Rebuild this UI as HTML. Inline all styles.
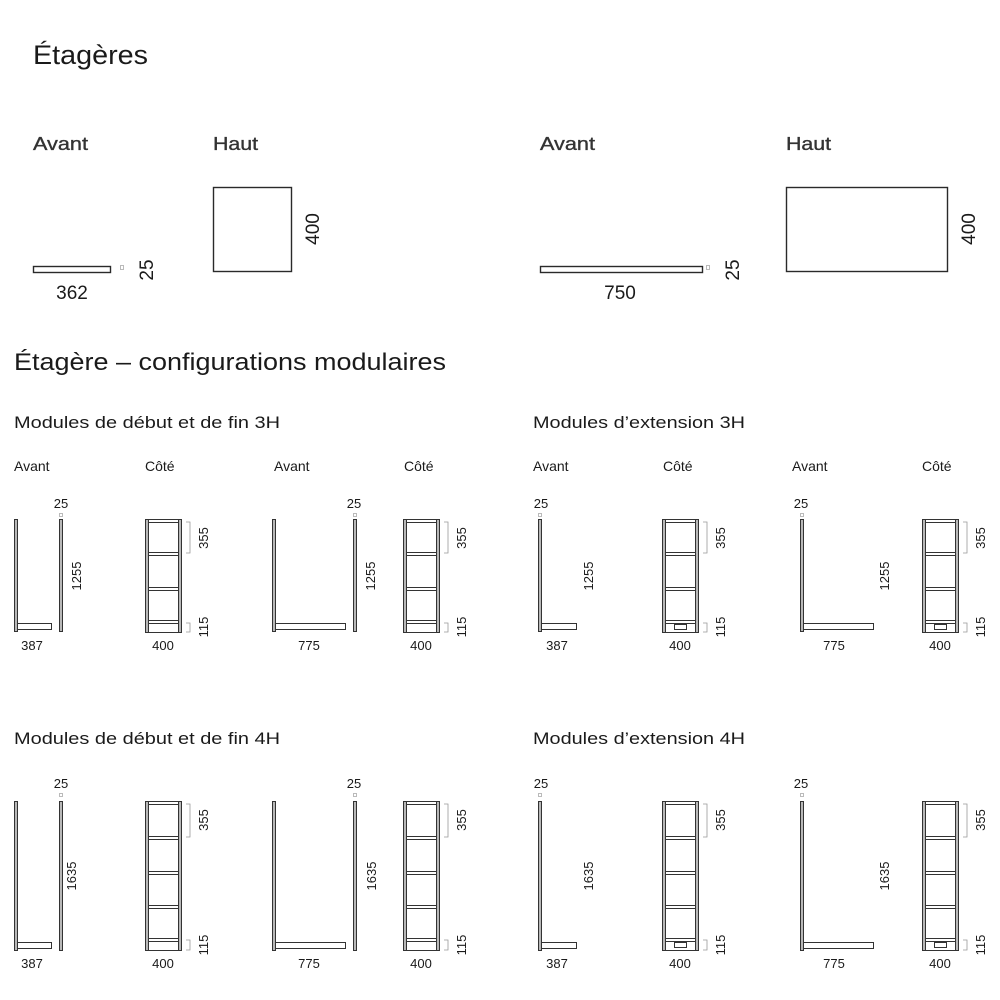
<!DOCTYPE html>
<html><head><meta charset="utf-8"><style>
html,body{margin:0;padding:0;background:#fff;}
svg{display:block;font-family:"Liberation Sans",sans-serif;fill:#1a1a1a;}
.p{fill:#b8b8b8;stroke:#333;stroke-width:1;}
.w{fill:#fff;stroke:#333;stroke-width:1;}
.s{fill:#fff;stroke:#2a2a2a;stroke-width:1.4;}
.b{fill:none;stroke:#999;stroke-width:0.8;}
.sm{fill:none;stroke:#aaa;stroke-width:0.8;}
.t13{font-size:14px;}
.n{font-size:13px;}
.h{font-size:18px;fill:#333;stroke:#333;stroke-width:0.35;}
</style></head><body>
<svg width="1000" height="1000" viewBox="0 0 1000 1000" xmlns="http://www.w3.org/2000/svg">
<defs>
 <g id="side3">
  <rect class="w" x="0.5" y="0.5" width="36" height="113"/>
  <rect class="p" x="0.5" y="0.5" width="3" height="113"/>
  <rect class="p" x="33.5" y="0.5" width="3" height="113"/>
  <rect class="w" x="3.5" y="0.5" width="30" height="3"/>
  <rect class="w" x="3.5" y="33.5" width="30" height="3"/>
  <rect class="w" x="3.5" y="68.5" width="30" height="3"/>
  <rect class="w" x="3.5" y="101.5" width="30" height="3"/>
  <path class="b" d="M41 3h4v31h-4M41 104h4v9h-4"/>
 </g>
 <g id="side4">
  <rect class="w" x="0.5" y="0.5" width="36" height="149"/>
  <rect class="p" x="0.5" y="0.5" width="3" height="149"/>
  <rect class="p" x="33.5" y="0.5" width="3" height="149"/>
  <rect class="w" x="3.5" y="0.5" width="30" height="3"/>
  <rect class="w" x="3.5" y="35.5" width="30" height="3"/>
  <rect class="w" x="3.5" y="70.5" width="30" height="3"/>
  <rect class="w" x="3.5" y="104.5" width="30" height="3"/>
  <rect class="w" x="3.5" y="137.5" width="30" height="3"/>
  <path class="b" d="M41 3h4v33h-4M41 139h4v10h-4"/>
 </g>
 <rect id="plinth" class="w" x="0" y="0" width="12" height="5"/>
</defs>

<text x="33" y="64" font-size="27" textLength="115" lengthAdjust="spacingAndGlyphs">Étagères</text>
<text class="h" x="33" y="150" textLength="55" lengthAdjust="spacingAndGlyphs">Avant</text>
<text class="h" x="213" y="150" textLength="45" lengthAdjust="spacingAndGlyphs">Haut</text>
<text class="h" x="540" y="150" textLength="55" lengthAdjust="spacingAndGlyphs">Avant</text>
<text class="h" x="786" y="150" textLength="45" lengthAdjust="spacingAndGlyphs">Haut</text>

<rect class="s" x="33.5" y="266.5" width="77" height="6"/>
<rect class="sm" x="120.5" y="265.5" width="3" height="4"/>
<text transform="translate(153,270) rotate(-90)" font-size="19" text-anchor="middle">25</text>
<text x="72" y="299" font-size="19" text-anchor="middle">362</text>
<rect class="s" x="213.5" y="187.5" width="78" height="84"/>
<text transform="translate(319,229) rotate(-90)" font-size="19" text-anchor="middle">400</text>

<rect class="s" x="540.5" y="266.5" width="162" height="6"/>
<rect class="sm" x="706.5" y="265.5" width="3" height="4"/>
<text transform="translate(739,270) rotate(-90)" font-size="19" text-anchor="middle">25</text>
<text x="620" y="299" font-size="19" text-anchor="middle">750</text>
<rect class="s" x="786.5" y="187.5" width="161" height="84"/>
<text transform="translate(975,229) rotate(-90)" font-size="19" text-anchor="middle">400</text>

<text x="14" y="370" font-size="24" textLength="432" lengthAdjust="spacingAndGlyphs">Étagère – configurations modulaires</text>

<text x="14" y="428" font-size="17" textLength="266" lengthAdjust="spacingAndGlyphs">Modules de début et de fin 3H</text>
<text x="533" y="428" font-size="17" textLength="212" lengthAdjust="spacingAndGlyphs">Modules d’extension 3H</text>
<text x="14" y="744" font-size="17" textLength="266" lengthAdjust="spacingAndGlyphs">Modules de début et de fin 4H</text>
<text x="533" y="744" font-size="17" textLength="212" lengthAdjust="spacingAndGlyphs">Modules d’extension 4H</text>

<g class="t13">
<text x="14" y="471">Avant</text><text x="145" y="471">Côté</text>
<text x="274" y="471">Avant</text><text x="404" y="471">Côté</text>
<text x="533" y="471">Avant</text><text x="663" y="471">Côté</text>
<text x="792" y="471">Avant</text><text x="922" y="471">Côté</text>
</g>

<rect class="p" x="14.5" y="519.5" width="3" height="112"/>
<rect class="w" x="17.5" y="623.5" width="34" height="6"/>
<rect class="p" x="59.5" y="519.5" width="3" height="112"/>
<rect class="sm" x="59.5" y="513.5" width="3" height="3"/>
<text class="n" x="61" y="508" text-anchor="middle">25</text>
<text class="n" transform="translate(81,576) rotate(-90)" text-anchor="middle">1255</text>
<text class="n" x="32" y="650" text-anchor="middle">387</text>
<use href="#side3" x="145" y="519"/>
<text class="n" transform="translate(208,538) rotate(-90)" text-anchor="middle">355</text>
<text class="n" transform="translate(208,627) rotate(-90)" text-anchor="middle">115</text>
<text class="n" x="163" y="650" text-anchor="middle">400</text>

<rect class="p" x="272.5" y="519.5" width="3" height="112"/>
<rect class="w" x="275.5" y="623.5" width="70" height="6"/>
<rect class="p" x="353.5" y="519.5" width="3" height="112"/>
<rect class="sm" x="353.5" y="513.5" width="3" height="3"/>
<text class="n" x="354" y="508" text-anchor="middle">25</text>
<text class="n" transform="translate(375,576) rotate(-90)" text-anchor="middle">1255</text>
<text class="n" x="309" y="650" text-anchor="middle">775</text>
<use href="#side3" x="403" y="519"/>
<text class="n" transform="translate(466,538) rotate(-90)" text-anchor="middle">355</text>
<text class="n" transform="translate(466,627) rotate(-90)" text-anchor="middle">115</text>
<text class="n" x="421" y="650" text-anchor="middle">400</text>

<rect class="p" x="538.5" y="519.5" width="3" height="112"/>
<rect class="w" x="541.5" y="623.5" width="35" height="6"/>
<rect class="sm" x="538.5" y="513.5" width="3" height="3"/>
<text class="n" x="541" y="508" text-anchor="middle">25</text>
<text class="n" transform="translate(593,576) rotate(-90)" text-anchor="middle">1255</text>
<text class="n" x="557" y="650" text-anchor="middle">387</text>
<use href="#side3" x="662" y="519"/>
<use href="#plinth" x="674.5" y="624.5"/>
<text class="n" transform="translate(725,538) rotate(-90)" text-anchor="middle">355</text>
<text class="n" transform="translate(725,627) rotate(-90)" text-anchor="middle">115</text>
<text class="n" x="680" y="650" text-anchor="middle">400</text>

<rect class="p" x="800.5" y="519.5" width="3" height="112"/>
<rect class="w" x="803.5" y="623.5" width="70" height="6"/>
<rect class="sm" x="800.5" y="513.5" width="3" height="3"/>
<text class="n" x="801" y="508" text-anchor="middle">25</text>
<text class="n" transform="translate(889,576) rotate(-90)" text-anchor="middle">1255</text>
<text class="n" x="834" y="650" text-anchor="middle">775</text>
<use href="#side3" x="922" y="519"/>
<use href="#plinth" x="934.5" y="624.5"/>
<text class="n" transform="translate(985,538) rotate(-90)" text-anchor="middle">355</text>
<text class="n" transform="translate(985,627) rotate(-90)" text-anchor="middle">115</text>
<text class="n" x="940" y="650" text-anchor="middle">400</text>

<rect class="p" x="14.5" y="801.5" width="3" height="149"/>
<rect class="w" x="17.5" y="942.5" width="34" height="6"/>
<rect class="p" x="59.5" y="801.5" width="3" height="149"/>
<rect class="sm" x="59.5" y="793.5" width="3" height="3"/>
<text class="n" x="61" y="788" text-anchor="middle">25</text>
<text class="n" transform="translate(76,876) rotate(-90)" text-anchor="middle">1635</text>
<text class="n" x="32" y="968" text-anchor="middle">387</text>
<use href="#side4" x="145" y="801"/>
<text class="n" transform="translate(208,820) rotate(-90)" text-anchor="middle">355</text>
<text class="n" transform="translate(208,945) rotate(-90)" text-anchor="middle">115</text>
<text class="n" x="163" y="968" text-anchor="middle">400</text>

<rect class="p" x="272.5" y="801.5" width="3" height="149"/>
<rect class="w" x="275.5" y="942.5" width="70" height="6"/>
<rect class="p" x="353.5" y="801.5" width="3" height="149"/>
<rect class="sm" x="353.5" y="793.5" width="3" height="3"/>
<text class="n" x="354" y="788" text-anchor="middle">25</text>
<text class="n" transform="translate(376,876) rotate(-90)" text-anchor="middle">1635</text>
<text class="n" x="309" y="968" text-anchor="middle">775</text>
<use href="#side4" x="403" y="801"/>
<text class="n" transform="translate(466,820) rotate(-90)" text-anchor="middle">355</text>
<text class="n" transform="translate(466,945) rotate(-90)" text-anchor="middle">115</text>
<text class="n" x="421" y="968" text-anchor="middle">400</text>

<rect class="p" x="538.5" y="801.5" width="3" height="149"/>
<rect class="w" x="541.5" y="942.5" width="35" height="6"/>
<rect class="sm" x="538.5" y="793.5" width="3" height="3"/>
<text class="n" x="541" y="788" text-anchor="middle">25</text>
<text class="n" transform="translate(593,876) rotate(-90)" text-anchor="middle">1635</text>
<text class="n" x="557" y="968" text-anchor="middle">387</text>
<use href="#side4" x="662" y="801"/>
<use href="#plinth" x="674.5" y="942.5"/>
<text class="n" transform="translate(725,820) rotate(-90)" text-anchor="middle">355</text>
<text class="n" transform="translate(725,945) rotate(-90)" text-anchor="middle">115</text>
<text class="n" x="680" y="968" text-anchor="middle">400</text>

<rect class="p" x="800.5" y="801.5" width="3" height="149"/>
<rect class="w" x="803.5" y="942.5" width="70" height="6"/>
<rect class="sm" x="800.5" y="793.5" width="3" height="3"/>
<text class="n" x="801" y="788" text-anchor="middle">25</text>
<text class="n" transform="translate(889,876) rotate(-90)" text-anchor="middle">1635</text>
<text class="n" x="834" y="968" text-anchor="middle">775</text>
<use href="#side4" x="922" y="801"/>
<use href="#plinth" x="934.5" y="942.5"/>
<text class="n" transform="translate(985,820) rotate(-90)" text-anchor="middle">355</text>
<text class="n" transform="translate(985,945) rotate(-90)" text-anchor="middle">115</text>
<text class="n" x="940" y="968" text-anchor="middle">400</text>
</svg>
</body></html>
